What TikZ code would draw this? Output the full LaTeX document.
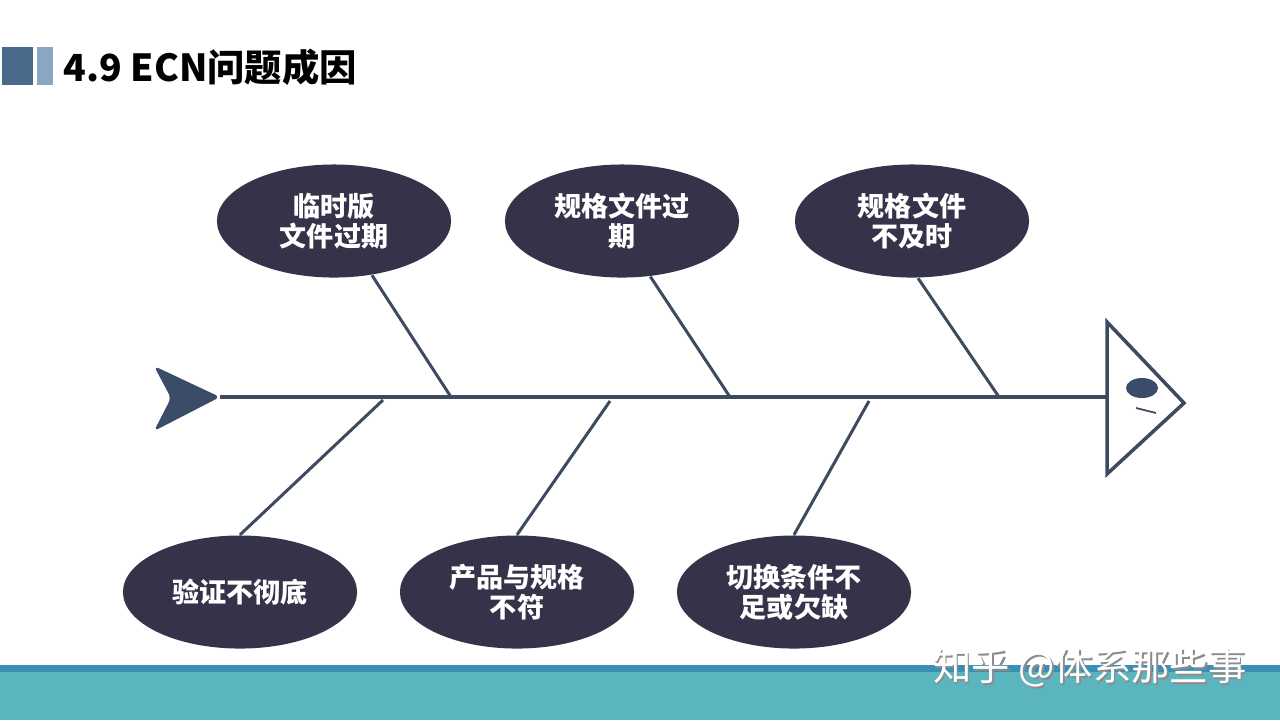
\documentclass[tikz,border=0pt]{standalone}
\usepackage{fontspec}
\newfontfamily\cjk{Noto Sans CJK SC}
\usetikzlibrary{shapes.geometric,calc}
\definecolor{bone}{HTML}{3E4A5E}
\definecolor{bubble}{HTML}{35334A}
\definecolor{tailblue}{HTML}{3B4C68}
\definecolor{sqdark}{HTML}{4A6A8C}
\definecolor{sqlight}{HTML}{8AA6C4}
\definecolor{stripe}{HTML}{3A90B3}
\definecolor{band}{HTML}{5AB5BE}
\tikzset{
  cause/.style={ellipse,fill=bubble,text=white,minimum width=2.34cm,minimum height=1.13cm,
    inner sep=0pt,align=center,font=\cjk\bfseries\fontsize{7.7}{8.5}\selectfont},
  spineline/.style={bone,line width=1pt},
  boneline/.style={bone,line width=0.85pt}
}

\begin{document}
\begin{tikzpicture}[x=0.01cm,y=-0.01cm]
  \useasboundingbox (0,0) rectangle (1280,720);
  \fill[white] (0,0) rectangle (1280,720);
  % title
  \fill[sqdark] (2,47) rectangle (33,85);
  \fill[sqlight] (37,47) rectangle (53,85);
  \node[anchor=west,inner sep=0pt,font=\cjk\bfseries\fontsize{10.6}{12}\selectfont] (title) at (63,67) {4.9 ECN问题成因};
  % bottom band
  \fill[stripe] (0,665) rectangle (1280,672);
  \fill[band] (0,672) rectangle (1280,720);
  \node[text=black!45,font=\cjk\fontsize{10.9}{12}\selectfont] (wmshadow) at (1091.5,669.5) {知乎 @体系那些事};
  \node[text=white,font=\cjk\fontsize{10.9}{12}\selectfont] (wm) at (1090,668) {知乎 @体系那些事};
  % spine
  \coordinate (tailtip) at (220,397);
  \coordinate (headback) at (1107,397);
  \fill[tailblue,rounded corners=1.5pt] (154,366) -- (tailtip) -- (154,431) -- (171,398) -- cycle;
  \draw[spineline] (tailtip) -- (headback);
  % head
  \draw[spineline,fill=white] (1107,322) -- (1184,403) -- (1107,474) -- cycle;
  \fill[tailblue] (1142,388) ellipse [x radius=0.16cm,y radius=0.1cm];
  \draw[bone,line width=0.5pt] (1136,408) -- (1156,413);
  % causes
  \node[cause] (c1) at (334,221) {临时版\\文件过期};
  \node[cause] (c2) at (622,221) {规格文件过\\期};
  \node[cause] (c3) at (912,221) {规格文件\\不及时};
  \node[cause] (c4) at (240,592) {验证不彻底};
  \node[cause] (c5) at (517,592) {产品与规格\\不符};
  \node[cause] (c6) at (794,592) {切换条件不\\足或欠缺};
  % bones
  \coordinate (j1) at (451,397);
  \coordinate (j2) at (730,397);
  \coordinate (j3) at (999,397);
  \coordinate (j4) at (383,400);
  \coordinate (j5) at (610,401);
  \coordinate (j6) at (869,401);
  \draw[boneline] (c1.-55) -- (j1);
  \draw[boneline] (c2.-63) -- (j2);
  \draw[boneline] (c3.-84) -- (j3);
  \draw[boneline] (c4.north) -- (j4);
  \draw[boneline] (c5.north) -- (j5);
  \draw[boneline] (c6.north) -- (j6);
\end{tikzpicture}
\end{document}
